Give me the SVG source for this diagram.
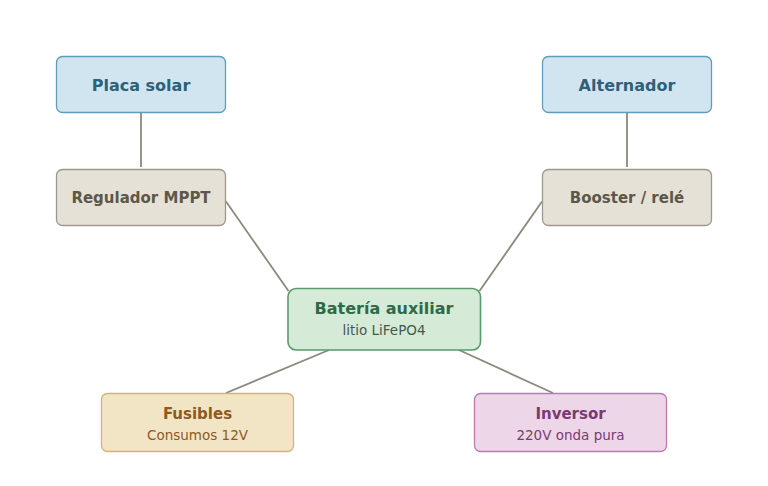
<svg xmlns="http://www.w3.org/2000/svg" width="768" height="486" viewBox="0 0 768 486">
<style>
text{font-family:"DejaVu Sans","Liberation Sans",sans-serif;text-anchor:middle}
.t{font-weight:bold;font-size:16px}
.t2{font-weight:bold;font-size:15px}
.s{font-size:13.5px}
.src rect{fill:#d1e5f1;stroke:#5f9dbe;stroke-width:1.3}
.src text{fill:#2f6079}
.reg rect{fill:#e6e1d6;stroke:#9f998c;stroke-width:1.3}
.reg text{fill:#5d574a}
.bat rect{fill:#d5ebd7;stroke:#5a9a6c;stroke-width:1.6}
.fus rect{fill:#f2e5c6;stroke:#d6b274;stroke-width:1.3}
.fus text{fill:#8c5a22}
.inv rect{fill:#ecd6e8;stroke:#b97cb2;stroke-width:1.3}
.inv text{fill:#7b3a72}
#connectors line{stroke:#8c887b;stroke-width:1.8;fill:none}
</style>
<rect width="768" height="486" fill="#ffffff"/>
<g id="connectors">
<line x1="141" y1="113" x2="141" y2="167"/>
<line x1="627" y1="113" x2="627" y2="167"/>
<line x1="226" y1="201.5" x2="288.5" y2="291"/>
<line x1="542" y1="201.5" x2="479.5" y2="291"/>
<line x1="329" y1="350" x2="226" y2="393"/>
<line x1="459" y1="350" x2="553" y2="393"/>
</g>
<g id="placa" class="src">
<rect x="56.5" y="56.5" width="169" height="56" rx="6"/>
<text class="t" x="141" y="90.5">Placa solar</text>
</g>
<g id="alternador" class="src">
<rect x="542.5" y="56.5" width="169" height="56" rx="6"/>
<text class="t" x="627" y="90.5">Alternador</text>
</g>
<g id="regulador" class="reg">
<rect x="56.5" y="169.5" width="169" height="56" rx="6"/>
<text class="t2" x="141" y="203.3">Regulador MPPT</text>
</g>
<g id="booster" class="reg">
<rect x="542.5" y="169.5" width="169" height="56" rx="6"/>
<text class="t2" x="627" y="203.3">Booster / relé</text>
</g>
<g id="bateria" class="bat">
<rect x="288" y="288.5" width="192.5" height="61.5" rx="8"/>
<text class="t" x="384" y="313.7" fill="#2e6a47">Batería auxiliar</text>
<text class="s" x="384" y="335" fill="#45584a">litio LiFePO4</text>
</g>
<g id="fusibles" class="fus">
<rect x="101.5" y="393.5" width="192" height="58" rx="6"/>
<text class="t2" x="197.5" y="419">Fusibles</text>
<text class="s" x="197.5" y="440">Consumos 12V</text>
</g>
<g id="inversor" class="inv">
<rect x="474.5" y="393.5" width="192" height="58" rx="6"/>
<text class="t2" x="570.5" y="419">Inversor</text>
<text class="s" x="570.5" y="440">220V onda pura</text>
</g>
</svg>
